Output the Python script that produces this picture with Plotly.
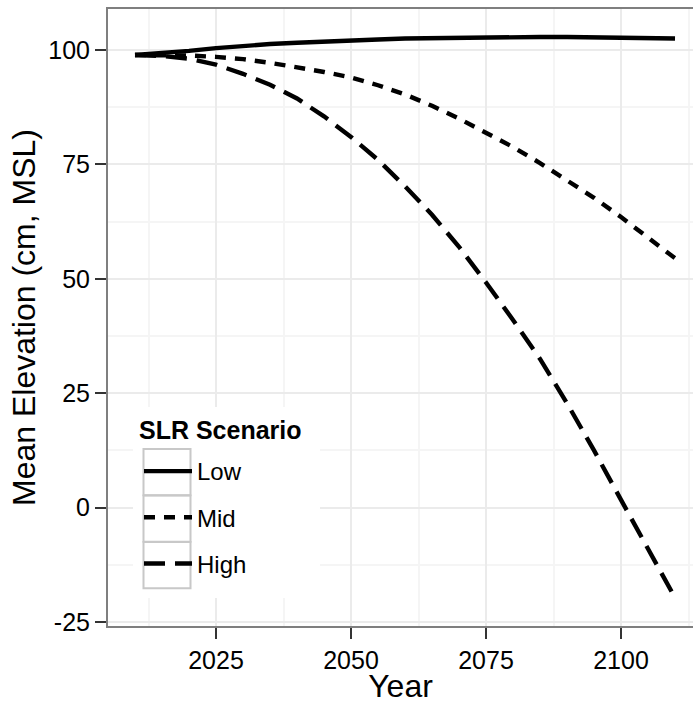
import plotly.graph_objects as go

years = [2010, 2015, 2020, 2025, 2030, 2035, 2040, 2045, 2050, 2055, 2060,
         2065, 2070, 2075, 2080, 2085, 2090, 2095, 2100, 2105, 2110]
low = [98.9, 99.3, 99.8, 100.4, 100.9, 101.3, 101.6, 101.9, 102.1, 102.3, 102.5,
       102.6, 102.7, 102.8, 102.85, 102.85, 102.85, 102.8, 102.7, 102.6, 102.5]
mid = [98.9, 98.9, 98.8, 98.5, 98.0, 97.2, 96.3, 95.2, 94.0, 92.3, 90.3,
       87.8, 85.0, 82.0, 78.8, 75.3, 71.6, 67.7, 63.5, 59.1, 54.5]
high = [98.9, 98.7, 98.1, 96.8, 94.8, 92.4, 89.4, 85.5, 81.0, 76.0, 70.2,
        64.0, 57.0, 49.2, 41.0, 32.5, 22.8, 12.5, 1.7, -9.0, -19.7]

scenarios = ["Low", "Mid", "High"]
series = [low, mid, high]
dashes = ["solid", "11px,9px", "21px,10px"]

x_ticks = [2025, 2050, 2075, 2100]
y_ticks = [-25, 0, 25, 50, 75, 100]
y_ticklabels = ["-25", "0", "25", "50", "75", "100"]
legend_title = "SLR Scenario"

FONT = "Liberation Sans, Arial, sans-serif"

fig = go.Figure()
for name, vals, dash in zip(scenarios, series, dashes):
    fig.add_trace(go.Scatter(
        x=years, y=vals, mode="lines", name=name, legendgroup=name,
        line=dict(color="black", width=4.4, dash=dash),
    ))

# plot panel is 585 x 617 px (left 108, top 9)
def px_x(p):
    return (p - 108) / 585.0

def px_y(p):
    return (626 - p) / 617.0

shapes = [
    # legend background
    dict(type="rect", xref="paper", yref="paper",
         x0=px_x(133), x1=px_x(320), y0=px_y(598), y1=px_y(407),
         fillcolor="white", line=dict(width=0), layer="above"),
]
# legend key boxes
for top in (449, 495.5, 542):
    shapes.append(dict(type="rect", xref="paper", yref="paper",
                       x0=px_x(143.5), x1=px_x(190.5), y0=px_y(top + 46.3), y1=px_y(top),
                       fillcolor="rgba(0,0,0,0)", line=dict(color="#c8c8c8", width=2),
                       layer="above"))

fig.update_layout(
    width=693, height=704,
    margin=dict(l=108, r=0, t=9, b=78),
    plot_bgcolor="white", paper_bgcolor="white",
    font=dict(family=FONT, color="black"),
    showlegend=True,
    shapes=shapes,
    annotations=[dict(
        text="<b>" + legend_title + "</b>", xref="paper", yref="paper",
        x=px_x(137), y=px_y(430), xanchor="left", yanchor="middle",
        showarrow=False, font=dict(size=25, family=FONT, color="black"),
    )],
    legend=dict(
        x=px_x(139), y=px_y(449), xanchor="left", yanchor="top",
        bgcolor="rgba(0,0,0,0)", borderwidth=0,
        font=dict(size=24, family=FONT),
        tracegroupgap=12,
        itemwidth=48,
    ),
    xaxis=dict(
        range=[2005, 2113.33], tickvals=x_ticks,
        showgrid=True, gridcolor="#ebebeb", gridwidth=1.5,
        minor=dict(tick0=2012.5, dtick=25, showgrid=True, gridcolor="#f5f5f5", gridwidth=1.5),
        ticks="outside", ticklen=11, tickwidth=2.2, tickcolor="#333333",
        tickfont=dict(size=25, family=FONT, color="black"),
        showline=True, linecolor="#7f7f7f", linewidth=2, mirror=True,
        zeroline=False,
        title=dict(text="Year", font=dict(size=32, family=FONT), standoff=8),
    ),
    yaxis=dict(
        range=[-25.87, 108.96], tickvals=y_ticks, ticktext=y_ticklabels,
        showgrid=True, gridcolor="#ebebeb", gridwidth=1.5,
        minor=dict(tick0=12.5, dtick=25, showgrid=True, gridcolor="#f5f5f5", gridwidth=1.5),
        ticks="outside", ticklen=11, tickwidth=2.2, tickcolor="#333333",
        tickfont=dict(size=25, family=FONT, color="black"),
        showline=True, linecolor="#7f7f7f", linewidth=2, mirror=False,
        zeroline=False,
        title=dict(text="Mean Elevation (cm, MSL)", font=dict(size=32, family=FONT), standoff=3),
    ),
)

fig.write_html("out.html")
